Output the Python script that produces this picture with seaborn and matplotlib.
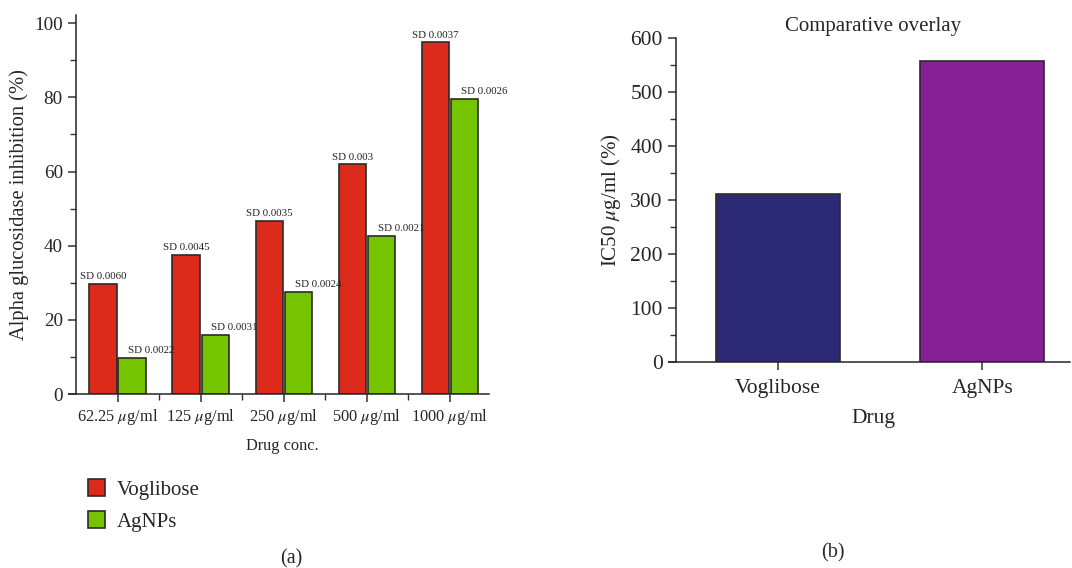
import matplotlib
matplotlib.use("Agg")
import matplotlib.pyplot as plt
import numpy as np
import pandas as pd
import seaborn as sns
from matplotlib.ticker import AutoMinorLocator, FixedLocator

sns.set_style("ticks")
plt.rcParams['font.family'] = ['Liberation Serif', 'DejaVu Serif']
plt.rcParams['mathtext.fontset'] = 'stix'
plt.rcParams['axes.linewidth'] = 1.1

# 抑制率数据 (a)
conc_labels = [r"62.25 $\mu$g/ml", r"125 $\mu$g/ml", r"250 $\mu$g/ml",
               r"500 $\mu$g/ml", r"1000 $\mu$g/ml"]
drugs = ["Voglibose", "AgNPs"]
voglibose_inh = [29.7, 37.6, 46.6, 61.9, 94.8]
agnps_inh = [9.7, 15.9, 27.6, 42.7, 79.5]
voglibose_sd = ["SD 0.0060", "SD 0.0045", "SD 0.0035", "SD 0.003", "SD 0.0037"]
agnps_sd = ["SD 0.0022", "SD 0.0031", "SD 0.0024", "SD 0.0021", "SD 0.0026"]

# IC50 数据 (b)
ic50_values = [312, 557]

colors_a = ["#dc2b1a", "#76c400"]
colors_b = ["#2d2a75", "#852195"]
edge = "#2b2b2b"

df = pd.DataFrame({
    "conc": conc_labels * 2,
    "drug": [drugs[0]] * 5 + [drugs[1]] * 5,
    "value": voglibose_inh + agnps_inh,
})
df_ic = pd.DataFrame({"drug": drugs, "ic50": ic50_values})

fig = plt.figure(figsize=(10.72, 5.68), dpi=100)
ax1 = fig.add_axes([0.0709, 0.3063, 0.3853, 0.6673])
ax2 = fig.add_axes([0.6306, 0.3621, 0.3675, 0.5715])

# (a) 分组柱状图
sns.barplot(data=df, x="conc", y="value", hue="drug", order=conc_labels,
            hue_order=drugs, palette=colors_a, width=0.7, gap=0.06,
            edgecolor=edge, linewidth=1.2, saturation=1, ax=ax1, legend=True)
ax1.set_ylim(0, 102.2)
ax1.set_xlim(-0.5, 4.47)
ax1.set_yticks([0, 20, 40, 60, 80, 100])
ax1.yaxis.set_minor_locator(AutoMinorLocator(2))
ax1.xaxis.set_minor_locator(FixedLocator(np.arange(len(conc_labels) - 1) + 0.5))
ax1.tick_params(axis='both', which='major', length=6, width=1.1,
                direction='out', color='#333333')
ax1.tick_params(axis='y', which='major', labelsize=13.8)
ax1.tick_params(axis='x', which='major', labelsize=11.8)
ax1.tick_params(axis='both', which='minor', length=4, width=1.0, color='#333333')
ax1.set_xlabel("Drug conc.", fontsize=11.8, labelpad=8)
ax1.set_ylabel("Alpha glucosidase inhibition (%)", fontsize=14.8, labelpad=4)
ax1.spines['right'].set_visible(False)
ax1.spines['top'].set_visible(False)
ax1.spines['bottom'].set_bounds(-0.585, 4.47)

sd_lists = [voglibose_sd, agnps_sd]
offsets = [0, 14]
for cont, labels, dx in zip(ax1.containers, sd_lists, offsets):
    for patch, lab in zip(cont.patches, labels):
        x = patch.get_x() + patch.get_width() / 2
        y = patch.get_height()
        ax1.annotate(lab, xy=(x, y), xytext=(dx, 2), textcoords='offset points',
                     ha='center', va='bottom', fontsize=7.8, color='#222222')

handles, labels = ax1.get_legend_handles_labels()
ax1.get_legend().remove()
fig.legend(handles, labels, loc='upper left', bbox_to_anchor=(0.074, 0.171),
           frameon=False, fontsize=15, handlelength=0.85, handleheight=0.85,
           handletextpad=0.55, labelspacing=0.55, borderaxespad=0)

# (b) IC50 柱状图
sns.barplot(data=df_ic, x="drug", y="ic50", hue="drug", order=drugs,
            palette=colors_b, width=0.61, edgecolor=edge, linewidth=1.2,
            saturation=1, ax=ax2, legend=False)
ax2.set_ylim(0, 600)
ax2.set_xlim(-0.5, 1.43)
ax2.set_yticks([0, 100, 200, 300, 400, 500, 600])
ax2.yaxis.set_minor_locator(AutoMinorLocator(2))
ax2.tick_params(axis='both', which='major', length=6, width=1.1, labelsize=15.5,
                direction='out', color='#333333')
ax2.tick_params(axis='x', which='major', pad=6)
ax2.tick_params(axis='y', which='minor', length=4, width=1.0, color='#333333')
ax2.set_xlabel("Drug", fontsize=15.5, labelpad=8)
ax2.set_ylabel(r"IC50 $\mu$g/ml (%)", fontsize=15, labelpad=5)
ax2.set_title("Comparative overlay", fontsize=15, pad=5)
ax2.spines['right'].set_visible(False)
ax2.spines['top'].set_visible(False)
ax2.spines['bottom'].set_bounds(-0.535, 1.43)

fig.text(0.272, 0.016, "(a)", ha='center', va='center', fontsize=14.5)
fig.text(0.777, 0.026, "(b)", ha='center', va='center', fontsize=14.5)

fig.savefig("out.png", dpi=100)
